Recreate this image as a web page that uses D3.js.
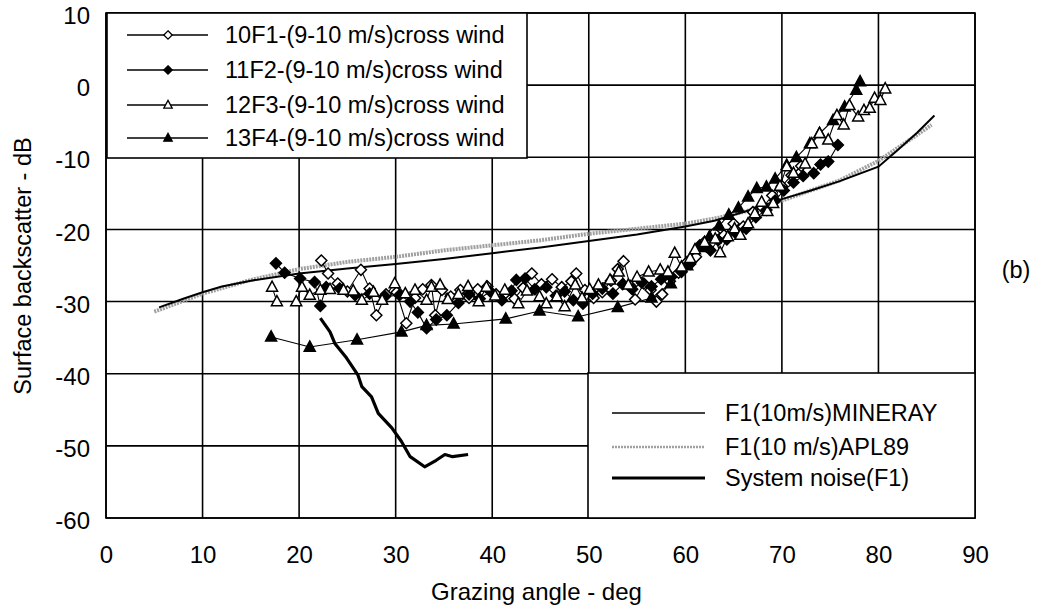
<!DOCTYPE html>
<html><head><meta charset="utf-8">
<script src="https://cdn.jsdelivr.net/npm/d3@7"></script>
<style>body{margin:0;background:#fff;}svg{display:block;font-family:"Liberation Sans",Arial,sans-serif;}</style>
</head><body>
<svg id="c" width="1042" height="614"></svg>
<script>
const xTicks = [0,10,20,30,40,50,60,70,80,90];
const yTicks = [10,0,-10,-20,-30,-40,-50,-60];
const seriesNames = ["10F1-(9-10 m/s)cross wind","11F2-(9-10 m/s)cross wind","12F3-(9-10 m/s)cross wind","13F4-(9-10 m/s)cross wind"];
const modelNames = ["F1(10m/s)MINERAY","F1(10 m/s)APL89","System noise(F1)"];

const f1 = [[22.3,-24.3],[23.0,-26.1],[24.0,-27.5],[25.0,-28.6],[26.4,-25.6],[27.3,-28.2],[28.0,-31.9],[29.0,-29.0],[30.1,-28.7],[31.1,-33.0],[32.0,-29.5],[32.8,-28.3],[33.7,-27.7],[34.1,-31.9],[34.8,-28.4],[35.7,-29.3],[36.7,-28.4],[37.6,-29.5],[38.5,-28.3],[39.5,-27.9],[40.4,-29.0],[41.4,-28.8],[42.3,-29.6],[43.2,-28.1],[44.1,-26.1],[45.1,-27.6],[46.2,-26.9],[47.2,-28.0],[48.2,-27.2],[48.7,-26.1],[49.6,-28.4],[50.5,-29.5],[51.4,-28.7],[52.3,-27.1],[53.0,-25.5],[53.6,-24.4],[54.3,-27.8],[54.8,-29.7],[55.7,-27.5],[56.4,-28.4],[57.0,-30.0],[57.6,-29.0],[58.4,-27.2],[59.3,-26.0],[60.2,-24.5],[61.1,-23.8],[62.0,-21.7],[63.0,-20.5],[64.0,-20.8],[65.0,-19.2],[66.0,-19.6],[67.0,-17.6],[68.0,-17.0],[69.0,-15.3],[70.0,-14.0],[71.0,-12.5],[72.0,-11.2]];
const f2 = [[17.6,-24.7],[18.5,-26.0],[20.1,-26.8],[21.6,-27.3],[22.2,-30.6],[22.8,-28.0],[24.2,-28.2],[25.8,-29.1],[27.3,-28.9],[28.9,-29.3],[30.4,-29.1],[31.5,-30.0],[32.3,-31.5],[33.2,-33.7],[34.2,-32.5],[35.3,-31.9],[36.5,-30.2],[37.6,-29.0],[38.7,-29.6],[39.8,-28.6],[41.0,-29.8],[42.0,-28.5],[42.5,-27.0],[43.4,-26.8],[44.4,-28.3],[45.6,-28.0],[46.6,-29.2],[47.5,-28.6],[48.4,-29.8],[49.4,-30.3],[50.4,-28.9],[51.4,-28.2],[52.5,-28.9],[53.5,-27.6],[54.5,-28.3],[55.5,-27.4],[56.5,-27.9],[57.5,-26.9],[58.5,-26.6],[59.6,-25.9],[60.5,-24.8],[61.5,-22.2],[62.2,-22.4],[62.6,-22.9],[63.4,-21.5],[64.3,-21.4],[65.2,-20.5],[66.3,-19.9],[67.3,-18.3],[68.4,-17.3],[69.3,-16.0],[70.2,-14.6],[71.2,-13.5],[72.2,-12.6],[73.3,-12.2],[74.0,-11.0],[74.8,-10.6],[75.8,-8.3]];
const f3 = [[17.2,-28.0],[17.7,-30.0],[19.7,-30.0],[20.3,-28.0],[21.1,-29.1],[22.2,-28.4],[23.2,-28.3],[24.6,-28.4],[25.6,-28.5],[26.5,-29.8],[27.7,-28.7],[28.6,-29.8],[29.9,-27.5],[31.0,-28.9],[32.0,-28.4],[33.2,-29.8],[33.7,-28.0],[34.6,-27.7],[35.4,-29.7],[36.5,-29.0],[37.5,-27.9],[38.6,-30.0],[39.4,-28.0],[40.3,-29.2],[41.3,-28.4],[42.7,-30.3],[43.6,-28.5],[44.9,-29.3],[45.6,-30.3],[46.7,-29.3],[47.5,-30.7],[48.6,-27.7],[49.3,-29.5],[50.1,-28.3],[51.0,-27.7],[52.2,-27.0],[53.1,-25.9],[54.1,-27.7],[55.0,-26.6],[56.2,-25.9],[57.4,-25.6],[58.2,-25.9],[58.9,-23.3],[59.6,-25.2],[60.5,-24.0],[61.0,-22.8],[62.0,-21.8],[63.1,-21.3],[63.6,-23.2],[64.4,-21.0],[65.1,-19.9],[65.7,-20.8],[66.5,-19.2],[67.2,-17.8],[67.9,-16.2],[68.5,-17.5],[69.1,-16.4],[69.8,-14.0],[70.5,-11.3],[71.2,-12.2],[72.4,-10.9],[73.1,-8.1],[73.9,-6.7],[74.8,-7.6],[75.7,-4.2],[76.4,-5.5],[77.0,-2.8],[77.9,-4.4],[78.5,-3.5],[79.1,-3.2],[79.6,-1.8],[80.2,-2.1],[80.7,-0.5]];
const f4 = [[17.1,-34.9],[21.1,-36.3],[26.0,-35.3],[30.6,-34.2],[33.2,-33.3],[36.0,-33.1],[41.4,-32.4],[44.9,-31.3],[48.9,-32.1],[53.0,-30.8],[56.5,-29.5],[58.5,-27.5],[60.2,-25.0],[61.5,-22.5],[62.5,-21.0],[63.5,-19.5],[64.5,-18.0],[65.5,-17.0],[66.5,-15.5],[67.4,-14.3],[68.4,-14.1],[69.3,-13.0],[70.5,-11.1],[71.5,-10.0],[72.9,-8.1],[73.9,-6.7],[75.3,-4.9],[76.5,-3.0],[77.7,-0.7],[78.1,0.5]];
const mineray = [[5.5,-30.8],[8,-29.6],[10,-28.7],[12,-27.9],[15,-27.1],[20,-26.1],[25,-25.4],[30,-24.8],[35,-24.1],[40,-23.3],[45,-22.5],[50,-21.6],[55,-20.7],[60,-19.6],[63,-18.8],[66,-17.6],[70,-15.8],[73,-14.6],[76,-13.3],[80,-11.3],[82,-9.0],[84,-6.6],[85.8,-4.2]];
const apl89 = [[5,-31.4],[8,-29.9],[10,-28.9],[15,-27.0],[20,-25.5],[25,-24.5],[30,-23.8],[35,-22.9],[40,-22.2],[45,-21.5],[50,-20.6],[55,-19.9],[60,-19.2],[63,-18.5],[66,-17.6],[70,-16.0],[73,-14.6],[76,-13.2],[80,-10.5],[83,-7.8],[85.5,-5.5]];
const noise = [[22.2,-32.3],[23.2,-34.2],[23.7,-35.8],[24.9,-37.8],[26.1,-40.2],[26.5,-41.8],[27.5,-43.2],[28.2,-45.5],[29.6,-47.5],[30.6,-49.4],[31.5,-51.5],[33.0,-52.9],[34.2,-52.0],[35.1,-51.2],[35.9,-51.5],[37.5,-51.2]];

const svg = d3.select("#c");
const L=106,R=975,T=13,B=518;
const x = d3.scaleLinear().domain([0,90]).range([L,R]);
const y = d3.scaleLinear().domain([-60,10]).range([B,T]);
const fs = "23.5px";

// grid
const g = svg.append("g");
g.selectAll(".gx").data(xTicks).join("line").attr("x1",d=>x(d)).attr("x2",d=>x(d)).attr("y1",T).attr("y2",B).attr("stroke","#000").attr("stroke-width",1.6);
g.selectAll(".gy").data(yTicks).join("line").attr("x1",L).attr("x2",R).attr("y1",d=>y(d)).attr("y2",d=>y(d)).attr("stroke","#000").attr("stroke-width",1.6);
svg.append("rect").attr("x",L).attr("y",T).attr("width",R-L).attr("height",B-T).attr("fill","none").attr("stroke","#000").attr("stroke-width",1.6);

// axes labels
const xa = d3.axisBottom(x).tickValues(xTicks).tickFormat(d=>String(d)).tickSize(0).tickPadding(28);
svg.append("g").attr("transform",`translate(0,${B})`).call(xa).call(s=>{s.select(".domain").remove();s.selectAll("text").attr("font-size","24px").attr("font-family","Liberation Sans, Arial").attr("fill","#000");});
const ya = d3.axisLeft(y).tickValues(yTicks).tickFormat(d=>String(d)).tickSize(0).tickPadding(16);
svg.append("g").attr("transform",`translate(${L},3)`).call(ya).call(s=>{s.select(".domain").remove();s.selectAll("text").attr("font-size","24px").attr("font-family","Liberation Sans, Arial").attr("fill","#000");});
svg.append("text").attr("x",(L+R)/2 - 4).attr("y",600).attr("text-anchor","middle").attr("font-size","24px").text("Grazing angle - deg");
svg.append("text").attr("transform","translate(31,266) rotate(-90)").attr("text-anchor","middle").attr("font-size",fs).text("Surface backscatter - dB");
svg.append("text").attr("x",1016).attr("y",278).attr("text-anchor","middle").attr("font-size",fs).text("(b)");

const line = d3.line().x(d=>x(d[0])).y(d=>y(d[1]));
// models
svg.append("path").attr("d",line(apl89)).attr("fill","none").attr("stroke","#a0a0a0").attr("stroke-width",4).attr("stroke-dasharray","2,1");
svg.append("path").attr("d",line(mineray)).attr("fill","none").attr("stroke","#000").attr("stroke-width",2);
svg.append("path").attr("d",line(noise)).attr("fill","none").attr("stroke","#000").attr("stroke-width",3.2).attr("stroke-linejoin","round");

const diamond = r=>`M0,${-r}L${r},0L0,${r}L${-r},0Z`;
const tri = r=>`M0,${-r*1.1}L${r},${r*0.75}L${-r},${r*0.75}Z`;
const specs = [
  {data:f1, shape:diamond, fill:"#fff"},
  {data:f2, shape:diamond, fill:"#000"},
  {data:f4, shape:tri, fill:"#000"},
  {data:f3, shape:tri, fill:"#fff"}
];
specs.forEach(s=>{
  svg.append("path").attr("d",line(s.data)).attr("fill","none").attr("stroke","#000").attr("stroke-width",1.1);
});
specs.forEach(s=>{
  svg.append("g").selectAll("path").data(s.data).join("path")
    .attr("transform",d=>`translate(${x(d[0])},${y(d[1])})`)
    .attr("d",s.shape(5.5)).attr("fill",s.fill).attr("stroke","#000").attr("stroke-width",1.5);
});

// legend 1
const lg = svg.append("g");
lg.append("rect").attr("x",107).attr("y",13).attr("width",420).attr("height",145).attr("fill","#fff").attr("stroke","#000").attr("stroke-width",1.6);
const lspec = [{shape:diamond,fill:"#fff"},{shape:diamond,fill:"#000"},{shape:tri,fill:"#fff"},{shape:tri,fill:"#000"}];
const rowsY = [35,70,105,138];
seriesNames.forEach((n,i)=>{
  lg.append("line").attr("x1",127).attr("x2",208).attr("y1",rowsY[i]).attr("y2",rowsY[i]).attr("stroke","#000").attr("stroke-width",1.4);
  lg.append("path").attr("transform",`translate(168,${rowsY[i]})`).attr("d",lspec[i].shape(4.2)).attr("fill",lspec[i].fill).attr("stroke","#000").attr("stroke-width",1.3);
  lg.append("text").attr("x",225).attr("y",rowsY[i]+8).attr("font-size",fs).text(n);
});
// legend 2
const lg2 = svg.append("g");
lg2.append("rect").attr("x",588).attr("y",373).attr("width",387).attr("height",145).attr("fill","#fff").attr("stroke","#000").attr("stroke-width",1.6);
const r2 = [413,447,478];
const mstyle = [{c:"#000",w:1.6,da:null},{c:"#a0a0a0",w:2.5,da:"2,1"},{c:"#000",w:3}];
modelNames.forEach((n,i)=>{
  lg2.append("line").attr("x1",612).attr("x2",705).attr("y1",r2[i]).attr("y2",r2[i]).attr("stroke",mstyle[i].c).attr("stroke-width",mstyle[i].w).attr("stroke-dasharray",mstyle[i].da);
  lg2.append("text").attr("x",725).attr("y",r2[i]+8).attr("font-size",fs).text(n);
});
</script>
</body></html>
